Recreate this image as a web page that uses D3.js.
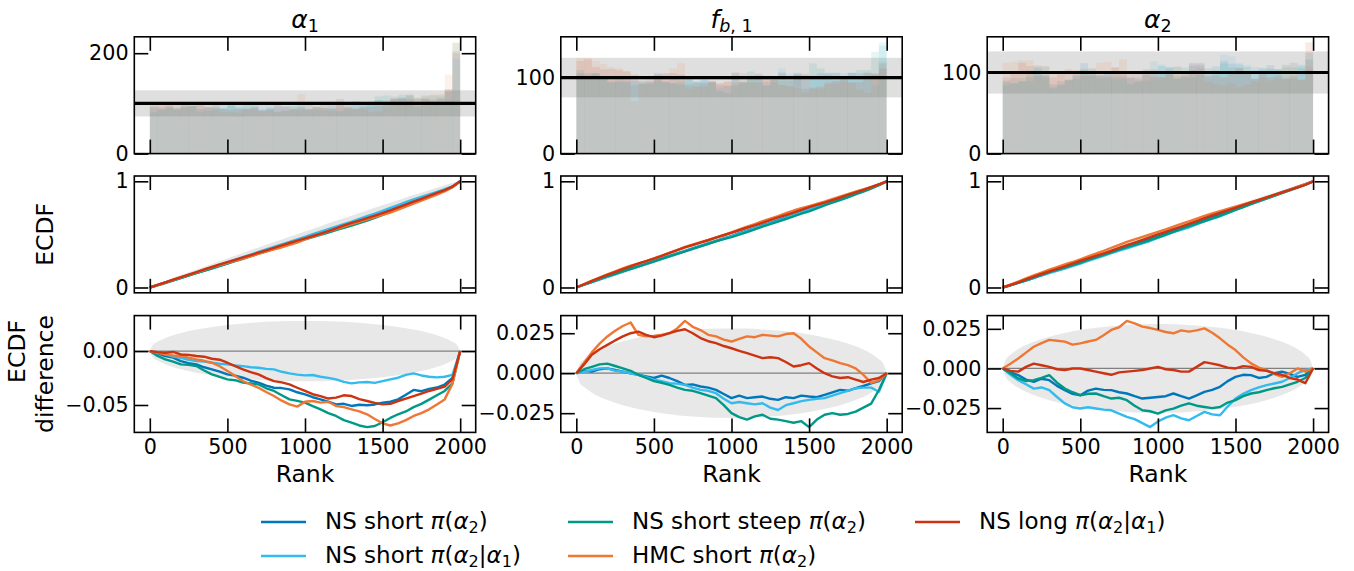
<!DOCTYPE html>
<html>
<head>
<meta charset="utf-8">
<script src="https://cdn.jsdelivr.net/npm/d3@7"></script>
<style>
  body { margin: 0; background: #fff; }
  svg text { font-family: "DejaVu Sans", sans-serif; fill: #000; white-space: pre; }
</style>
</head>
<body>
<svg id="chart" width="1354" height="571"></svg>
<script>
// ---------------------------------------------------------------------------
// Data
// ---------------------------------------------------------------------------
// ranks at which the ECDF differences are tabulated (bin edges of the rank histograms)
const rankGrid = d3.range(0, 2001, 50);
const nSimulations = 4000;           // rank statistics per parameter
const maxRank = 2000;

const seriesLabels = [
  "NS short π(α₂)",
  "NS short π(α₂|α₁)",
  "NS short steep π(α₂)",
  "HMC short π(α₂)",
  "NS long π(α₂|α₁)"
];
const paramTitles = ["α_1", "f_b, 1", "α_2"];

// ECDF difference (ECDF - rank/2000) on rankGrid, one array per sampler
const alpha1_nsShort = [0, -0.0020, -0.0046, -0.0061, -0.0093, -0.0112, -0.0123, -0.0150, -0.0170, -0.0190, -0.0216, -0.0228, -0.0247, -0.0275, -0.0293, -0.0320, -0.0340, -0.0343, -0.0355, -0.0382, -0.0401, -0.0428, -0.0448, -0.0470, -0.0494, -0.0489, -0.0509, -0.0498, -0.0503, -0.0495, -0.0478, -0.0470, -0.0448, -0.0405, -0.0360, -0.0372, -0.0350, -0.0338, -0.0310, -0.0250, 0];
const alpha1_nsShortCond = [0, -0.0012, -0.0031, -0.0050, -0.0062, -0.0080, -0.0093, -0.0098, -0.0108, -0.0118, -0.0123, -0.0132, -0.0139, -0.0150, -0.0154, -0.0165, -0.0170, -0.0192, -0.0207, -0.0218, -0.0225, -0.0222, -0.0238, -0.0248, -0.0262, -0.0285, -0.0299, -0.0290, -0.0287, -0.0295, -0.0278, -0.0262, -0.0247, -0.0220, -0.0207, -0.0226, -0.0238, -0.0244, -0.0238, -0.0220, 0];
const alpha1_nsSteep = [0, -0.0045, -0.0077, -0.0098, -0.0123, -0.0128, -0.0139, -0.0180, -0.0216, -0.0240, -0.0262, -0.0270, -0.0293, -0.0300, -0.0309, -0.0345, -0.0370, -0.0410, -0.0448, -0.0462, -0.0478, -0.0510, -0.0540, -0.0575, -0.0602, -0.0640, -0.0664, -0.0690, -0.0705, -0.0695, -0.0660, -0.0620, -0.0586, -0.0560, -0.0520, -0.0490, -0.0450, -0.0410, -0.0370, -0.0300, 0];
const alpha1_hmcShort = [0, -0.0015, -0.0031, -0.0040, -0.0046, -0.0060, -0.0077, -0.0090, -0.0108, -0.0140, -0.0185, -0.0230, -0.0278, -0.0310, -0.0340, -0.0380, -0.0417, -0.0460, -0.0494, -0.0515, -0.0470, -0.0463, -0.0478, -0.0470, -0.0509, -0.0520, -0.0540, -0.0560, -0.0586, -0.0630, -0.0670, -0.0690, -0.0670, -0.0640, -0.0602, -0.0575, -0.0540, -0.0495, -0.0448, -0.0304, 0];
const alpha1_nsLong = [0, -0.0010, -0.0015, -0.0008, -0.0031, -0.0035, -0.0046, -0.0052, -0.0071, -0.0080, -0.0108, -0.0140, -0.0170, -0.0195, -0.0216, -0.0250, -0.0278, -0.0290, -0.0309, -0.0340, -0.0370, -0.0400, -0.0417, -0.0440, -0.0432, -0.0410, -0.0417, -0.0445, -0.0463, -0.0480, -0.0494, -0.0490, -0.0463, -0.0440, -0.0417, -0.0395, -0.0370, -0.0350, -0.0330, -0.0260, 0];

const fb1_nsShort = [0, 0.0015, 0.0010, 0.0025, 0.0030, 0.0020, 0.0010, 0.0000, -0.0010, -0.0020, -0.0030, -0.0015, -0.0030, -0.0050, -0.0073, -0.0070, -0.0083, -0.0090, -0.0104, -0.0130, -0.0156, -0.0140, -0.0156, -0.0150, -0.0146, -0.0160, -0.0167, -0.0150, -0.0156, -0.0140, -0.0146, -0.0150, -0.0135, -0.0120, -0.0104, -0.0110, -0.0094, -0.0080, -0.0063, -0.0050, 0];
const fb1_nsShortCond = [0, 0.0010, 0.0020, 0.0030, 0.0030, 0.0015, 0.0010, 0.0000, -0.0010, -0.0025, -0.0040, -0.0050, -0.0063, -0.0065, -0.0073, -0.0090, -0.0104, -0.0110, -0.0125, -0.0160, -0.0188, -0.0180, -0.0188, -0.0195, -0.0188, -0.0215, -0.0230, -0.0200, -0.0188, -0.0175, -0.0167, -0.0160, -0.0156, -0.0140, -0.0125, -0.0110, -0.0094, -0.0090, -0.0090, -0.0116, 0];
const fb1_nsSteep = [0, 0.0025, 0.0040, 0.0055, 0.0060, 0.0045, 0.0030, 0.0015, -0.0010, -0.0030, -0.0050, -0.0060, -0.0073, -0.0090, -0.0104, -0.0110, -0.0125, -0.0140, -0.0156, -0.0200, -0.0250, -0.0275, -0.0290, -0.0270, -0.0260, -0.0285, -0.0290, -0.0300, -0.0310, -0.0300, -0.0337, -0.0290, -0.0260, -0.0250, -0.0260, -0.0255, -0.0240, -0.0215, -0.0190, -0.0105, 0];
const fb1_hmcShort = [0, 0.0065, 0.0130, 0.0185, 0.0230, 0.0265, 0.0295, 0.0317, 0.0240, 0.0230, 0.0233, 0.0240, 0.0250, 0.0280, 0.0327, 0.0290, 0.0270, 0.0240, 0.0230, 0.0210, 0.0198, 0.0215, 0.0230, 0.0225, 0.0240, 0.0235, 0.0230, 0.0245, 0.0250, 0.0215, 0.0167, 0.0130, 0.0094, 0.0080, 0.0063, 0.0050, 0.0030, -0.0010, -0.0060, -0.0045, 0];
const fb1_nsLong = [0, 0.0055, 0.0115, 0.0150, 0.0177, 0.0205, 0.0230, 0.0250, 0.0260, 0.0240, 0.0225, 0.0235, 0.0250, 0.0265, 0.0275, 0.0250, 0.0220, 0.0200, 0.0188, 0.0170, 0.0156, 0.0140, 0.0125, 0.0110, 0.0094, 0.0100, 0.0094, 0.0070, 0.0042, 0.0050, 0.0063, 0.0030, 0.0000, -0.0020, -0.0030, -0.0025, -0.0040, -0.0055, -0.0040, -0.0030, 0];

const alpha2_nsShort = [0, -0.0025, -0.0042, -0.0070, -0.0084, -0.0065, -0.0074, -0.0110, -0.0137, -0.0160, -0.0169, -0.0140, -0.0127, -0.0135, -0.0137, -0.0150, -0.0158, -0.0175, -0.0190, -0.0185, -0.0180, -0.0175, -0.0158, -0.0175, -0.0190, -0.0170, -0.0148, -0.0135, -0.0116, -0.0080, -0.0053, -0.0040, -0.0042, -0.0060, -0.0053, -0.0030, -0.0020, -0.0035, -0.0053, -0.0040, 0];
const alpha2_nsShortCond = [0, -0.0040, -0.0074, -0.0100, -0.0127, -0.0120, -0.0137, -0.0180, -0.0220, -0.0245, -0.0253, -0.0245, -0.0253, -0.0260, -0.0264, -0.0285, -0.0306, -0.0320, -0.0345, -0.0370, -0.0335, -0.0310, -0.0295, -0.0315, -0.0327, -0.0300, -0.0274, -0.0290, -0.0295, -0.0240, -0.0190, -0.0160, -0.0137, -0.0120, -0.0105, -0.0095, -0.0084, -0.0060, -0.0030, -0.0010, 0];
const alpha2_nsSteep = [0, -0.0030, -0.0063, -0.0080, -0.0074, -0.0060, -0.0042, -0.0090, -0.0127, -0.0150, -0.0169, -0.0160, -0.0158, -0.0175, -0.0190, -0.0185, -0.0200, -0.0235, -0.0264, -0.0270, -0.0285, -0.0265, -0.0253, -0.0235, -0.0220, -0.0235, -0.0243, -0.0250, -0.0243, -0.0215, -0.0200, -0.0175, -0.0158, -0.0150, -0.0137, -0.0125, -0.0116, -0.0100, -0.0084, -0.0060, 0];
const alpha2_hmcShort = [0, 0.0030, 0.0063, 0.0100, 0.0137, 0.0160, 0.0180, 0.0175, 0.0169, 0.0150, 0.0158, 0.0170, 0.0180, 0.0210, 0.0243, 0.0260, 0.0300, 0.0285, 0.0264, 0.0255, 0.0243, 0.0230, 0.0222, 0.0240, 0.0232, 0.0240, 0.0253, 0.0225, 0.0190, 0.0150, 0.0116, 0.0070, 0.0032, 0.0005, -0.0010, -0.0035, -0.0053, -0.0030, 0.0000, -0.0020, 0];
const alpha2_nsLong = [0, -0.0015, -0.0020, 0.0010, 0.0030, 0.0020, 0.0010, -0.0005, -0.0010, 0.0000, 0.0000, -0.0010, -0.0020, -0.0030, -0.0040, -0.0025, -0.0020, -0.0015, -0.0010, 0.0000, 0.0010, -0.0005, -0.0010, -0.0020, -0.0020, 0.0010, 0.0040, 0.0030, 0.0020, 0.0005, 0.0000, 0.0015, 0.0010, -0.0010, -0.0015, -0.0030, -0.0040, -0.0060, -0.0070, -0.0093, 0];

// simultaneous 99% band for the ECDF difference (half-width vs. rank)
const bandRanks = [0, 20, 50, 100, 200, 300, 400, 500, 600, 700, 800, 900, 1000, 1100, 1200, 1300, 1400, 1500, 1600, 1700, 1800, 1900, 1950, 1980, 2000];
const bandHalfWidth = [0, 0.0056, 0.0087, 0.0122, 0.0168, 0.0200, 0.0224, 0.0242, 0.0257, 0.0267, 0.0274, 0.0279, 0.0280, 0.0279, 0.0274, 0.0267, 0.0257, 0.0242, 0.0224, 0.0200, 0.0168, 0.0122, 0.0087, 0.0056, 0];
// 99% interval for the per-bin counts and their expectation
const histBand = [74, 126];
const histExpected = 100;

// tick values
const rankTicks = [0, 500, 1000, 1500, 2000];
const histTicks = [[0, 200], [0, 100], [0, 100]];
const ecdfTicks = [0, 1];
const diffTicks = [[-0.05, 0], [-0.025, 0, 0.025], [-0.025, 0, 0.025]];
const diffFormats = [".2f", ".3f", ".3f"];

const paramSeries = [
  [alpha1_nsShort, alpha1_nsShortCond, alpha1_nsSteep, alpha1_hmcShort, alpha1_nsLong],
  [fb1_nsShort, fb1_nsShortCond, fb1_nsSteep, fb1_hmcShort, fb1_nsLong],
  [alpha2_nsShort, alpha2_nsShortCond, alpha2_nsSteep, alpha2_hmcShort, alpha2_nsLong]
];

// ---------------------------------------------------------------------------
// Styling / layout
// ---------------------------------------------------------------------------
const seriesColors = ["#0077BB", "#33BBEE", "#009988", "#EE7733", "#CC3311"];
const colLeft = [134.3, 560.8, 987.2];
const panelW = 341.4;
const rowTop = [36.8, 176.0, 315.6];
const panelH = 116.8;
const tickFont = 20.7, labelFont = 23.5, titleFont = 25, legendFont = 23;
const tickLen = 14, frameWidth = 1.6, curveWidth = 2.4;

const svg = d3.select("#chart");

// Renders a label with italic Greek (and optionally Latin) letters and subscripts.
// "_" switches to subscript for the rest of the string; ₀₁₂ are single subscripts.
const SUB_DIGITS = { "₀": "0", "₁": "1", "₂": "2" };
function richText(textSel, str, size, italicLatin) {
  const runs = [];
  let subMode = false;
  for (const ch of str) {
    if (ch === "_") { subMode = true; continue; }
    let c = ch, isSub = subMode;
    if (SUB_DIGITS[ch]) { c = SUB_DIGITS[ch]; isSub = true; }
    const italic = /[α-ω]/.test(c) || (italicLatin && /[a-zA-Z]/.test(c));
    const last = runs[runs.length - 1];
    if (last && last.italic === italic && last.sub === isSub) last.t += c;
    else runs.push({ t: c, italic, sub: isSub });
  }
  let shift = 0;
  runs.forEach(r => {
    const target = r.sub ? size * 0.16 : 0;
    textSel.append("tspan")
      .attr("font-style", r.italic ? "italic" : "normal")
      .attr("font-size", r.sub ? size * 0.7 : size)
      .attr("dy", target - shift)
      .text(r.t);
    shift = target;
  });
}

// Box with inward ticks on all four sides.
function drawFrame(g, x, y, xTicks, yTicks, yFormat, xLabels) {
  const [x0, x1] = x.range();
  const [yb, yt] = y.range();
  const blank = () => "";
  const axes = [
    g.append("g").attr("transform", `translate(0,${yb})`)
      .call(d3.axisBottom(x).tickValues(xTicks).tickSizeInner(-tickLen).tickSizeOuter(0)
        .tickPadding(7.3).tickFormat(xLabels ? d3.format("d") : blank)),
    g.append("g").attr("transform", `translate(0,${yt})`)
      .call(d3.axisTop(x).tickValues(xTicks).tickSizeInner(-tickLen).tickSizeOuter(0).tickFormat(blank)),
    g.append("g").attr("transform", `translate(${x0},0)`)
      .call(d3.axisLeft(y).tickValues(yTicks).tickSizeInner(-tickLen).tickSizeOuter(0)
        .tickPadding(5.7).tickFormat(yFormat)),
    g.append("g").attr("transform", `translate(${x1},0)`)
      .call(d3.axisRight(y).tickValues(yTicks).tickSizeInner(-tickLen).tickSizeOuter(0).tickFormat(blank))
  ];
  axes.forEach(a => {
    a.attr("font-family", null).attr("font-size", null);
    a.select(".domain").remove();
    a.selectAll(".tick line").attr("stroke", "#000").attr("stroke-width", frameWidth);
    a.selectAll(".tick text").attr("font-size", tickFont).attr("fill", "#000");
  });
  g.append("rect")
    .attr("x", x0).attr("y", yt).attr("width", x1 - x0).attr("height", yb - yt)
    .attr("fill", "none").attr("stroke", "#000").attr("stroke-width", frameWidth);
}

// ---------------------------------------------------------------------------
// Panels
// ---------------------------------------------------------------------------
paramSeries.forEach((series, c) => {
  const left = colLeft[c];
  const x = d3.scaleLinear().domain([-100, 2100]).range([left, left + panelW]);

  // bin counts of the rank histograms follow from the tabulated ECDF
  const counts = series.map(d => d3.range(rankGrid.length - 1).map(i =>
    histExpected + nSimulations * (d[i + 1] - d[i])));

  // ---- row 1: rank histograms ----
  {
    const g = svg.append("g");
    const top = rowTop[0];
    const yMax = d3.max(counts.flat()) * 1.05;
    const y = d3.scaleLinear().domain([0, yMax]).range([top + panelH, top]);
    g.append("rect")
      .attr("x", left).attr("width", panelW)
      .attr("y", y(histBand[1])).attr("height", y(histBand[0]) - y(histBand[1]))
      .attr("fill", "#808080").attr("fill-opacity", 0.25);
    counts.forEach((cnt, s) => {
      g.append("g").selectAll("rect").data(cnt).join("rect")
        .attr("x", (v, i) => x(rankGrid[i]))
        .attr("width", (v, i) => x(rankGrid[i + 1]) - x(rankGrid[i]))
        .attr("y", v => y(v))
        .attr("height", v => y(0) - y(v))
        .attr("fill", seriesColors[s]).attr("fill-opacity", 0.1);
    });
    g.append("line")
      .attr("x1", left).attr("x2", left + panelW)
      .attr("y1", y(histExpected)).attr("y2", y(histExpected))
      .attr("stroke", "#000").attr("stroke-width", 3.2);
    drawFrame(g, x, y, rankTicks, histTicks[c], d3.format("d"), false);

    const title = svg.append("text")
      .attr("x", left + panelW / 2).attr("y", 28.3)
      .attr("text-anchor", "middle").attr("font-size", titleFont);
    richText(title, paramTitles[c], titleFont, true);
  }

  // ---- row 2: ECDF ----
  {
    const g = svg.append("g");
    const top = rowTop[1];
    const y = d3.scaleLinear().domain([-0.05, 1.05]).range([top + panelH, top]);
    const band = d3.area()
      .x((r, i) => x(r))
      .y0((r, i) => y(r / maxRank - bandHalfWidth[i]))
      .y1((r, i) => y(r / maxRank + bandHalfWidth[i]))
      .curve(d3.curveMonotoneX);
    g.append("path").datum(bandRanks).attr("d", band).attr("fill", "#e6e6e6");
    const line = d3.line().x((v, i) => x(rankGrid[i])).y((v, i) => y(rankGrid[i] / maxRank + v));
    series.forEach((d, s) => {
      g.append("path").datum(d).attr("d", line)
        .attr("fill", "none").attr("stroke", seriesColors[s]).attr("stroke-width", curveWidth)
        .attr("stroke-linejoin", "round");
    });
    drawFrame(g, x, y, rankTicks, ecdfTicks, d3.format("d"), false);
  }

  // ---- row 3: ECDF difference ----
  {
    const g = svg.append("g");
    const top = rowTop[2];
    const lo = Math.min(d3.min(series.flat()), -d3.max(bandHalfWidth));
    const hi = Math.max(d3.max(series.flat()), d3.max(bandHalfWidth));
    const pad = (hi - lo) * 0.05;
    const y = d3.scaleLinear().domain([lo - pad, hi + pad]).range([top + panelH, top]);
    const band = d3.area()
      .x((r, i) => x(r))
      .y0((r, i) => y(-bandHalfWidth[i]))
      .y1((r, i) => y(bandHalfWidth[i]))
      .curve(d3.curveMonotoneX);
    g.append("path").datum(bandRanks).attr("d", band).attr("fill", "#e8e8e8");
    g.append("line")
      .attr("x1", left).attr("x2", left + panelW)
      .attr("y1", y(0)).attr("y2", y(0))
      .attr("stroke", "#808080").attr("stroke-width", 1.2);
    const line = d3.line().x((v, i) => x(rankGrid[i])).y(v => y(v));
    series.forEach((d, s) => {
      g.append("path").datum(d).attr("d", line)
        .attr("fill", "none").attr("stroke", seriesColors[s]).attr("stroke-width", curveWidth)
        .attr("stroke-linejoin", "round");
    });
    drawFrame(g, x, y, rankTicks, diffTicks[c], d3.format(diffFormats[c]), true);

    svg.append("text")
      .attr("x", left + panelW / 2).attr("y", 481.5)
      .attr("text-anchor", "middle").attr("font-size", labelFont)
      .text("Rank");
  }
});

// ---------------------------------------------------------------------------
// Axis labels
// ---------------------------------------------------------------------------
svg.append("text")
  .attr("transform", `translate(53.3,${rowTop[1] + panelH / 2}) rotate(-90)`)
  .attr("text-anchor", "middle").attr("font-size", labelFont)
  .text("ECDF");
svg.append("text")
  .attr("transform", `translate(25.3,320) rotate(-90)`)
  .attr("text-anchor", "end").attr("font-size", labelFont)
  .text("ECDF");
svg.append("text")
  .attr("transform", `translate(53.3,${rowTop[2] + panelH / 2}) rotate(-90)`)
  .attr("text-anchor", "middle").attr("font-size", labelFont)
  .text("difference");

// ---------------------------------------------------------------------------
// Legend (three columns, filled column-wise)
// ---------------------------------------------------------------------------
const legendColX = [261, 568, 915];
const legendRowY = [522.0, 556.0];
seriesLabels.forEach((lab, i) => {
  const cx = legendColX[Math.floor(i / 2)];
  const cy = legendRowY[i % 2];
  svg.append("line")
    .attr("x1", cx).attr("x2", cx + 45).attr("y1", cy).attr("y2", cy)
    .attr("stroke", seriesColors[i]).attr("stroke-width", 2.4);
  const t = svg.append("text").attr("x", cx + 64).attr("y", cy + 7.2).attr("font-size", legendFont);
  richText(t, lab, legendFont, false);
});
</script>
</body>
</html>
